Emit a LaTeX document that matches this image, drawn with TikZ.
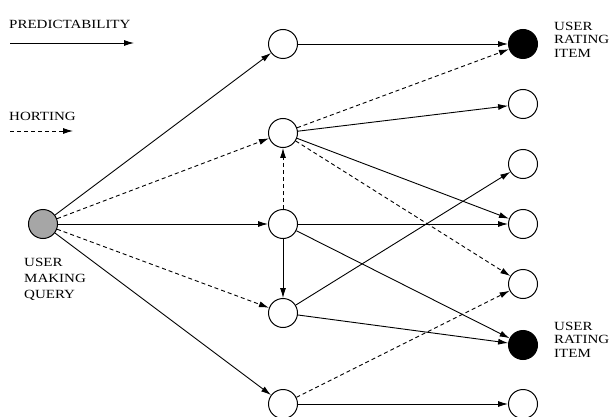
\documentclass[tikz,border=0pt]{standalone}
\usepackage{fontspec}
\setmainfont{Liberation Serif}
\newfontfamily\lblfont[FakeStretch=1.2]{Liberation Serif}
\usetikzlibrary{arrows.meta}
\begin{document}
\begin{tikzpicture}[x=1pt,y=-1pt,
  nd/.style={circle,draw,line width=1pt,minimum size=29pt,inner sep=0pt},
  blk/.style={nd,fill=black},
  qry/.style={nd,fill=gray!70},
  pr/.style={line width=0.9pt,-{Latex[length=10pt,width=6pt]}},
  ht/.style={pr,dash pattern=on 4pt off 3pt},
  lbl/.style={font=\lblfont\fontsize{12.5}{13.5}\selectfont,align=left,inner sep=0pt,anchor=west},
  lblq/.style={font=\lblfont\fontsize{12.5}{16}\selectfont,align=left,inner sep=0pt,anchor=west}
]
\clip (0,0) rectangle (613,417);
\fill[white] (0,0) rectangle (613,417);
% legend
\node[lbl] (tp) at (9,24) {PREDICTABILITY};
\coordinate (p1) at (10,43); \coordinate (p2) at (134,43);
\draw[pr] (p1) -- (p2);
\node[lbl] (th) at (9,116) {HORTING};
\coordinate (h1) at (10,131); \coordinate (h2) at (73,131);
\draw[ht] (h1) -- (h2);
% nodes
\node[qry] (Q) at (43,224) {};
\node[lblq] (lq) at (24,279) {USER\\MAKING\\QUERY};
\node[nd] (M1) at (283,44) {};
\node[nd] (M2) at (283,133) {};
\node[nd] (M3) at (283,224) {};
\node[nd] (M4) at (283,313) {};
\node[nd] (M5) at (283,404) {};
\node[blk] (R1) at (523,44) {};
\node[nd] (R2) at (523,104) {};
\node[nd] (R3) at (523,164) {};
\node[nd] (R4) at (523,224) {};
\node[nd] (R5) at (523,284) {};
\node[blk] (R6) at (523,345) {};
\node[nd] (R7) at (523,404) {};
\node[lbl] (l1) at (554,39.5) {USER\\RATING\\ITEM};
\node[lbl] (l2) at (554,339.5) {USER\\RATING\\ITEM};
% edges from query
\draw[pr] (Q) -- (M1);
\draw[ht] (Q) -- (M2);
\draw[pr] (Q) -- (M3);
\draw[ht] (Q) -- (M4);
\draw[pr] (Q) -- (M5);
% middle column
\draw[ht] (M3) -- (M2);
\draw[pr] (M3) -- (M4);
% to items
\draw[pr] (M1) -- (R1);
\draw[ht] (M2) -- (R1);
\draw[pr] (M2) -- (R2);
\draw[pr] (M2) -- (R4);
\draw[ht] (M2) -- (R5);
\draw[pr] (M3) -- (R4);
\draw[pr] (M3) -- (R6);
\draw[pr] (M4) -- (R3);
\draw[pr] (M4) -- (R6);
\draw[ht] (M5) -- (R5);
\draw[pr] (M5) -- (R7);
\end{tikzpicture}
\end{document}
